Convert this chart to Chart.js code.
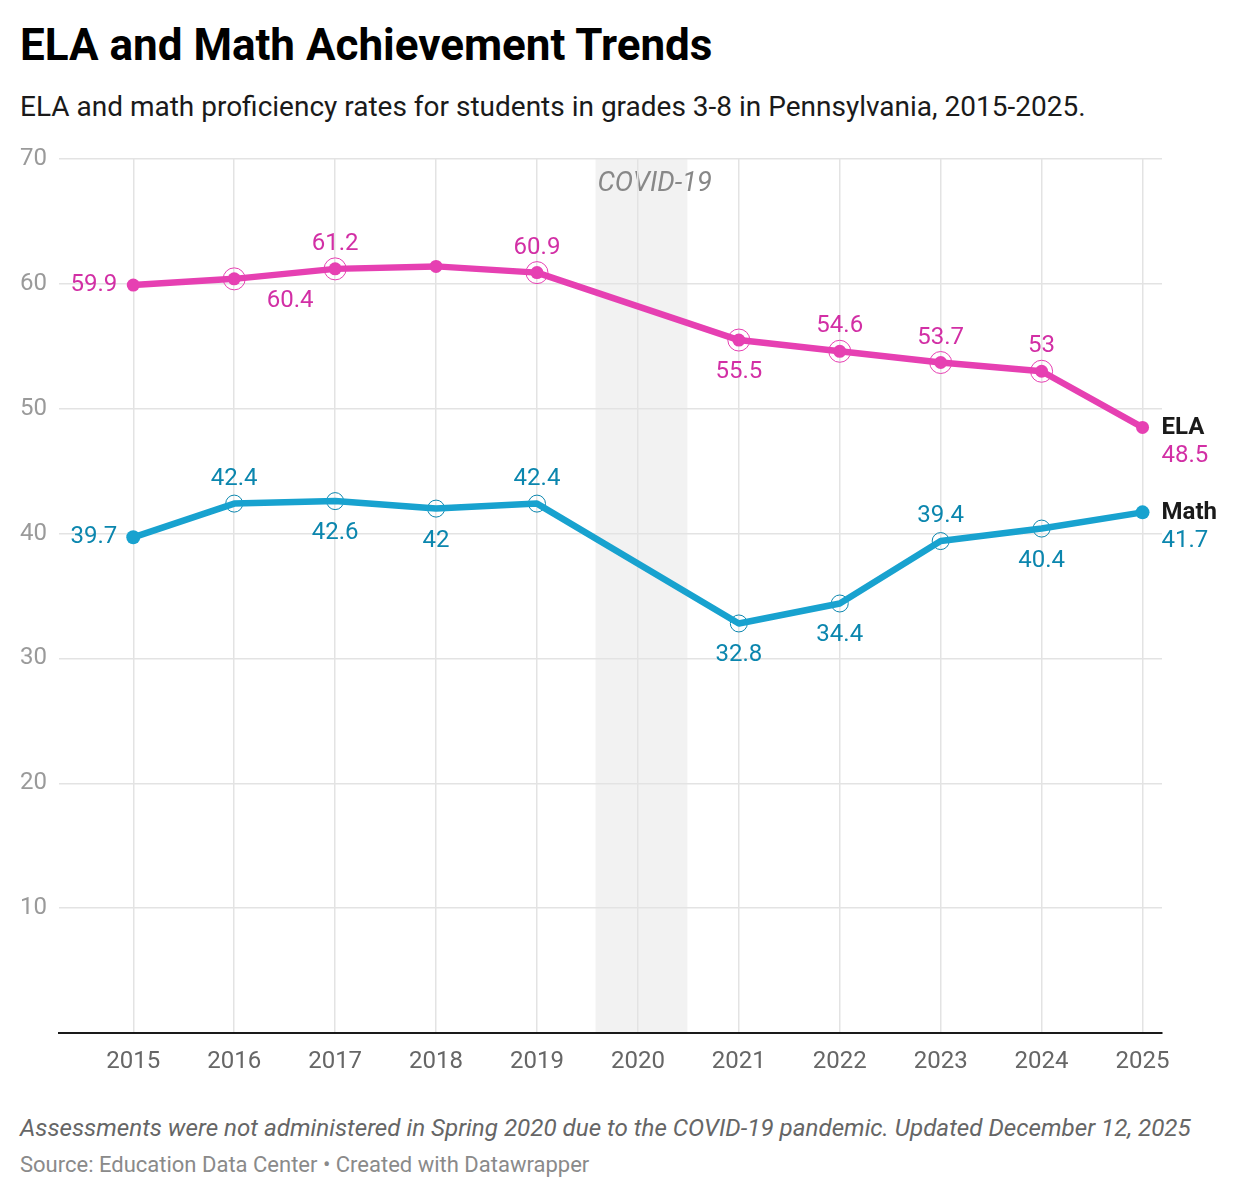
<!DOCTYPE html>
<html>
<head>
<meta charset="utf-8">
<script src="https://cdn.jsdelivr.net/npm/chart.js@4.4.1/dist/chart.umd.min.js"></script>
<style>
  html, body { margin: 0; padding: 0; background: #fff; }
  body { width: 1238px; height: 1198px; position: relative; font-family: Roboto, "Noto Sans", sans-serif; overflow: hidden; }
  .txt { position: absolute; left: 20px; white-space: nowrap; line-height: 1; }
  #title { top: 23px; font-size: 44px; font-weight: 700; color: #000; }
  #subtitle { top: 93px; font-size: 28px; color: #1a1a1a; }
  #note { top: 1116px; font-size: 24.2px; font-style: italic; color: #666; }
  #source { top: 1154px; font-size: 22px; color: #8a8a8a; }
  #wrap { position: absolute; left: 0; top: 140px; width: 1238px; height: 960px; }
</style>
</head>
<body>
<div class="txt" id="title">ELA and Math Achievement Trends</div>
<div class="txt" id="subtitle">ELA and math proficiency rates for students in grades 3-8 in Pennsylvania, 2015-2025.</div>
<div id="wrap"><canvas id="chart"></canvas></div>
<div class="txt" id="note">Assessments were not administered in Spring 2020 due to the COVID-19 pandemic. Updated December 12, 2025</div>
<div class="txt" id="source">Source: Education Data Center • Created with Datawrapper</div>

<script>
// data
const years = [2015, 2016, 2017, 2018, 2019, 2020, 2021, 2022, 2023, 2024, 2025];
const ela  = [59.9, 60.4, 61.2, 61.4, 60.9, null, 55.5, 54.6, 53.7, 53.0, 48.5];
const math = [39.7, 42.4, 42.6, 42.0, 42.4, null, 32.8, 34.4, 39.4, 40.4, 41.7];
const yTicks = [10, 20, 30, 40, 50, 60, 70];

// where each value label goes: l = left, a = above, b = below, br = below right, e = end label, '' = none
const elaPlace  = ['l', 'br', 'a', '', 'a', '', 'b', 'a', 'a', 'a', 'e'];
const mathPlace = ['l', 'a', 'b', 'b', 'a', '', 'b', 'b', 'a', 'b', 'e'];

const covid = { from: 2019.58, to: 2020.49, label: 'COVID-19' };

const colors = {
    ela: '#e640b2', elaText: '#d22fa5',
    math: '#18a2cf', mathText: '#0b86ae',
    grid: '#e3e3e3'
};

const FONT = 'Roboto, "Noto Sans", sans-serif';
const LABEL_SIZE = 24;

const toPts = (arr) => years.map((y, i) => ({ x: y, y: arr[i] }));
const hasRing = (p) => p === 'a' || p === 'b' || p === 'br';

/**
 * @description shade the covid year behind the grid
 */
const bandPlugin = {
    id: 'band',
    beforeDraw(chart) {
        const { ctx, chartArea: a, scales: { x } } = chart;
        const x0 = x.getPixelForValue(covid.from);
        const x1 = x.getPixelForValue(covid.to);
        ctx.save();
        ctx.fillStyle = '#f2f2f2';
        ctx.fillRect(x0, a.top, x1 - x0, a.bottom - a.top);
        ctx.fillStyle = '#888';
        ctx.font = 'italic 27.5px ' + FONT;
        ctx.textAlign = 'left';
        ctx.textBaseline = 'middle';
        ctx.fillText(covid.label, x0 + 2, a.top + 25);
        ctx.restore();
    }
};

/**
 * @description value labels and the line labels at the end of each series
 */
const labelPlugin = {
    id: 'valueLabels',
    afterDatasetsDraw(chart) {
        const { ctx } = chart;
        const sets = [
            { idx: 0, vals: ela, place: elaPlace, color: colors.elaText, name: 'ELA' },
            { idx: 2, vals: math, place: mathPlace, color: colors.mathText, name: 'Math' }
        ];
        ctx.save();
        sets.forEach(s => {
            const meta = chart.getDatasetMeta(s.idx);
            meta.data.forEach((pt, i) => {
                const p = s.place[i];
                if (!p || s.vals[i] == null) return;
                const txt = String(s.vals[i]);
                ctx.font = LABEL_SIZE + 'px ' + FONT;
                ctx.fillStyle = s.color;
                ctx.textBaseline = 'middle';
                if (p === 'l') {
                    ctx.textAlign = 'right';
                    ctx.fillText(txt, pt.x - 16, pt.y);
                } else if (p === 'a') {
                    ctx.textAlign = 'center';
                    ctx.fillText(txt, pt.x, pt.y - 25);
                } else if (p === 'b') {
                    ctx.textAlign = 'center';
                    ctx.fillText(txt, pt.x, pt.y + 32);
                } else if (p === 'br') {
                    ctx.textAlign = 'center';
                    ctx.fillText(txt, pt.x + 56, pt.y + 22);
                } else if (p === 'e') {
                    ctx.textAlign = 'left';
                    ctx.fillText(txt, pt.x + 19, pt.y + 29);
                    ctx.font = 'bold ' + LABEL_SIZE + 'px ' + FONT;
                    ctx.fillStyle = '#1a1a1a';
                    ctx.fillText(s.name, pt.x + 19, pt.y + 1);
                }
            });
        });
        ctx.restore();
    }
};

new Chart(document.getElementById('chart').getContext('2d'), {
    type: 'line',
    data: {
        datasets: [
            {
                label: 'ELA',
                data: toPts(ela),
                borderColor: colors.ela,
                backgroundColor: colors.ela,
                borderWidth: 6.5,
                borderJoinStyle: 'round',
                borderCapStyle: 'round',
                pointRadius: 6.5,
                pointBorderWidth: 0,
                pointBackgroundColor: colors.ela,
                spanGaps: true,
                tension: 0
            },
            {
                label: 'ELA rings',
                data: toPts(ela),
                showLine: false,
                pointRadius: elaPlace.map(p => hasRing(p) ? 11 : 0),
                pointBorderWidth: 1,
                pointBorderColor: colors.ela,
                pointBackgroundColor: 'rgba(0,0,0,0)'
            },
            {
                label: 'Math',
                data: toPts(math),
                borderColor: colors.math,
                backgroundColor: colors.math,
                borderWidth: 6.5,
                borderJoinStyle: 'round',
                borderCapStyle: 'round',
                pointRadius: mathPlace.map(p => hasRing(p) ? 0 : 7),
                pointBorderWidth: 0,
                pointBackgroundColor: colors.math,
                spanGaps: true,
                tension: 0
            },
            {
                label: 'Math rings',
                data: toPts(math),
                showLine: false,
                pointRadius: mathPlace.map(p => hasRing(p) ? 8.5 : 0),
                pointBorderWidth: 1,
                pointBorderColor: colors.mathText,
                pointBackgroundColor: 'rgba(0,0,0,0)'
            }
        ]
    },
    options: {
        responsive: true,
        maintainAspectRatio: false,
        animation: false,
        layout: { padding: { left: 0, right: 76, top: 19, bottom: 0 } },
        plugins: {
            legend: { display: false },
            tooltip: { enabled: false }
        },
        scales: {
            x: {
                type: 'linear',
                min: 2014.264,
                max: 2025.193,
                afterBuildTicks: scale => { scale.ticks = years.map(v => ({ value: v })); },
                afterFit: scale => {
                    scale.height = 67;
                    scale.paddingLeft = 0;
                    scale.paddingRight = 0;
                },
                grid: { color: colors.grid, lineWidth: 1.5, drawTicks: false },
                border: { display: true, color: '#1a1a1a', width: 2 },
                ticks: {
                    color: '#666',
                    font: { family: FONT, size: 24 },
                    padding: 15,
                    maxRotation: 0,
                    callback: v => String(v)
                }
            },
            y: {
                min: 0,
                max: 70,
                afterBuildTicks: scale => { scale.ticks = [0].concat(yTicks).map(v => ({ value: v })); },
                afterFit: scale => {
                    scale.width = 59;
                    scale.paddingTop = 0;
                    scale.paddingBottom = 0;
                },
                grid: { color: colors.grid, lineWidth: 1.5, drawTicks: false },
                border: { display: false },
                ticks: {
                    color: '#9a9a9a',
                    font: { family: FONT, size: 24 },
                    padding: 12,
                    callback: v => v === 0 ? '' : String(v)
                }
            }
        }
    },
    plugins: [bandPlugin, labelPlugin]
});
</script>
</body>
</html>
